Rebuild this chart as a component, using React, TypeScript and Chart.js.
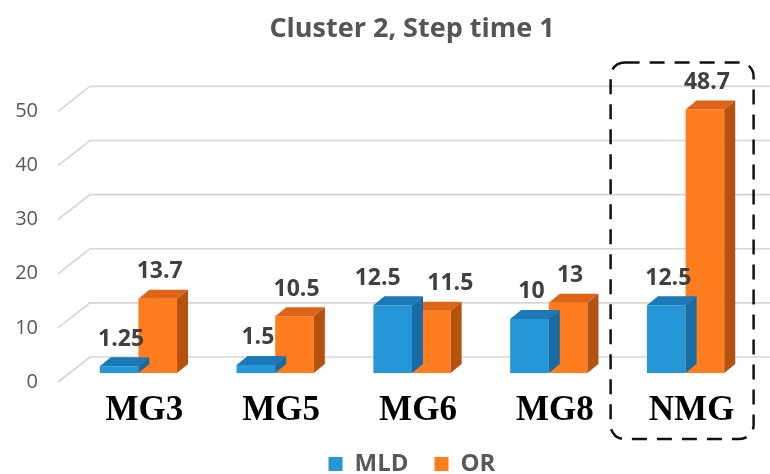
import React, { useEffect, useRef } from "react";
import { Chart, registerables } from "chart.js";

Chart.register(...registerables);

// Chart content
const chartTitle = "Cluster 2, Step time 1";
const categories = ["MG3", "MG5", "MG6", "MG8", "NMG"];
const seriesNames = ["MLD", "OR"];
const mldValues = [1.25, 1.5, 12.5, 10, 12.5];
const orValues = [13.7, 10.5, 11.5, 13, 48.7];
const yTickValues = [0, 10, 20, 30, 40, 50];
const highlightedCategory = "NMG";

// Face colours for the pseudo-3D columns: front, top, side
const palette = [
  { front: "#2596d6", top: "#1a79b6", side: "#176ca3" },
  { front: "#ff7c1f", top: "#de6517", side: "#b5520f" },
];

// Depth of the extruded columns and of the back wall
const DEPTH_X = 11;
const DEPTH_Y = 9;

const fontSans = '"Open Sans", "DejaVu Sans", sans-serif';

// Floor/wall grid: a short diagonal from each tick to the back wall, then a horizontal run
const wallGrid = {
  id: "wallGrid",
  beforeDatasetsDraw(chart: any) {
    const { ctx, chartArea, scales } = chart;
    const y = scales.y;
    ctx.save();
    ctx.strokeStyle = "#d6d6d6";
    ctx.lineWidth = 1.6;
    for (const v of yTickValues) {
      const py = y.getPixelForValue(v);
      ctx.beginPath();
      ctx.moveTo(chartArea.left - 12, py + 9);
      ctx.lineTo(chartArea.left + 20, py - 16);
      ctx.lineTo(chart.width, py - 16);
      ctx.stroke();
    }
    ctx.restore();
  },
};

// Top and side faces drawn after each dataset's front faces
const columnFaces = {
  id: "columnFaces",
  afterDatasetDraw(chart: any, args: any) {
    const { ctx } = chart;
    const colors = palette[args.index];
    const meta = chart.getDatasetMeta(args.index);
    ctx.save();
    meta.data.forEach((el: any) => {
      const { x, y, base, width } = el.getProps(["x", "y", "base", "width"], true);
      const l = x - width / 2;
      const r = x + width / 2;
      // top face
      ctx.fillStyle = colors.top;
      ctx.beginPath();
      ctx.moveTo(l, y);
      ctx.lineTo(r, y);
      ctx.lineTo(r + DEPTH_X, y - DEPTH_Y);
      ctx.lineTo(l + DEPTH_X, y - DEPTH_Y);
      ctx.closePath();
      ctx.fill();
      // side face
      ctx.fillStyle = colors.side;
      ctx.beginPath();
      ctx.moveTo(r, y);
      ctx.lineTo(r + DEPTH_X, y - DEPTH_Y);
      ctx.lineTo(r + DEPTH_X, base - DEPTH_Y);
      ctx.lineTo(r, base);
      ctx.closePath();
      ctx.fill();
    });
    ctx.restore();
  },
};

// Value labels above each column, pushed apart when a pair sits at similar heights
const valueLabels = {
  id: "valueLabels",
  afterDatasetsDraw(chart: any) {
    const { ctx } = chart;
    const m0 = chart.getDatasetMeta(0).data;
    const m1 = chart.getDatasetMeta(1).data;
    ctx.save();
    ctx.font = `bold 23px ${fontSans}`;
    ctx.fillStyle = "#404040";
    ctx.textAlign = "center";
    ctx.textBaseline = "middle";
    categories.forEach((_, i) => {
      const a = m0[i];
      const b = m1[i];
      const close = Math.abs(a.y - b.y) < 14;
      const nudge = close ? 17 : 0;
      ctx.fillText(String(mldValues[i]), a.x + 2 - nudge, a.y - 27);
      ctx.fillText(String(orValues[i]), b.x + 2 + nudge, b.y - 27);
    });
    ctx.restore();
  },
};

// Dashed rounded frame around the highlighted category
const highlightFrame = {
  id: "highlightFrame",
  afterDraw(chart: any) {
    const { ctx, chartArea, scales } = chart;
    const idx = categories.indexOf(highlightedCategory);
    const cx = scales.x.getPixelForValue(idx);
    const left = cx - 75;
    const right = cx + 68;
    const top = chartArea.top - 40;
    const bottom = chartArea.bottom + 66;
    ctx.save();
    ctx.strokeStyle = "#111111";
    ctx.lineWidth = 2.5;
    ctx.setLineDash([15, 10]);
    ctx.beginPath();
    ctx.roundRect(left, top, right - left, bottom - top, 14);
    ctx.stroke();
    ctx.restore();
  },
};

const LEGEND_PAD = 26;

export default function App() {
  const canvasRef = useRef<HTMLCanvasElement>(null);

  useEffect(() => {
    if (!canvasRef.current) return;
    const chart = new Chart(canvasRef.current, {
      type: "bar",
      data: {
        labels: categories,
        datasets: [
          {
            label: seriesNames[0],
            data: mldValues,
            backgroundColor: palette[0].front,
            borderWidth: 0,
          },
          {
            label: seriesNames[1],
            data: orValues,
            backgroundColor: palette[1].front,
            borderWidth: 0,
          },
        ],
      },
      options: {
        responsive: false,
        animation: false,
        layout: { padding: { left: 0, right: 16, top: 0, bottom: -12 } },
        datasets: {
          bar: { categoryPercentage: 0.565, barPercentage: 1 },
        },
        plugins: {
          title: {
            display: true,
            text: chartTitle,
            fullSize: false,
            color: "#555555",
            font: { family: fontSans, size: 27, weight: "bold" },
            padding: { top: 13, bottom: 57 },
          },
          legend: {
            position: "bottom",
            fullSize: false,
            labels: {
              boxWidth: 14,
              boxHeight: 14,
              color: "#595959",
              padding: LEGEND_PAD,
              font: { family: fontSans, size: 24, weight: "bold" },
            },
          },
          tooltip: { enabled: false },
        },
        scales: {
          x: {
            grid: { display: false, drawTicks: false },
            border: { display: false },
            ticks: {
              color: "#000000",
              padding: 17,
              labelOffset: 6,
              font: { family: '"Liberation Serif", "Times New Roman", serif', size: 35, weight: "bold" },
            },
            afterFit(scale: any) {
              scale.height = 79 - LEGEND_PAD;
            },
          },
          y: {
            min: 0,
            max: 50,
            grid: { display: false, drawTicks: false },
            border: { display: false },
            ticks: {
              stepSize: 10,
              color: "#595959",
              padding: 32,
              labelOffset: 9,
              font: { family: fontSans, size: 20 },
            },
            afterFit(scale: any) {
              scale.width = 70;
            },
          },
        },
      },
      plugins: [wallGrid, columnFaces, valueLabels, highlightFrame],
    });
    return () => chart.destroy();
  }, []);

  return (
    <div style={{ position: "fixed", left: 0, top: 0, width: 770, height: 474, background: "#ffffff" }}>
      <canvas ref={canvasRef} width={770} height={474} />
    </div>
  );
}
